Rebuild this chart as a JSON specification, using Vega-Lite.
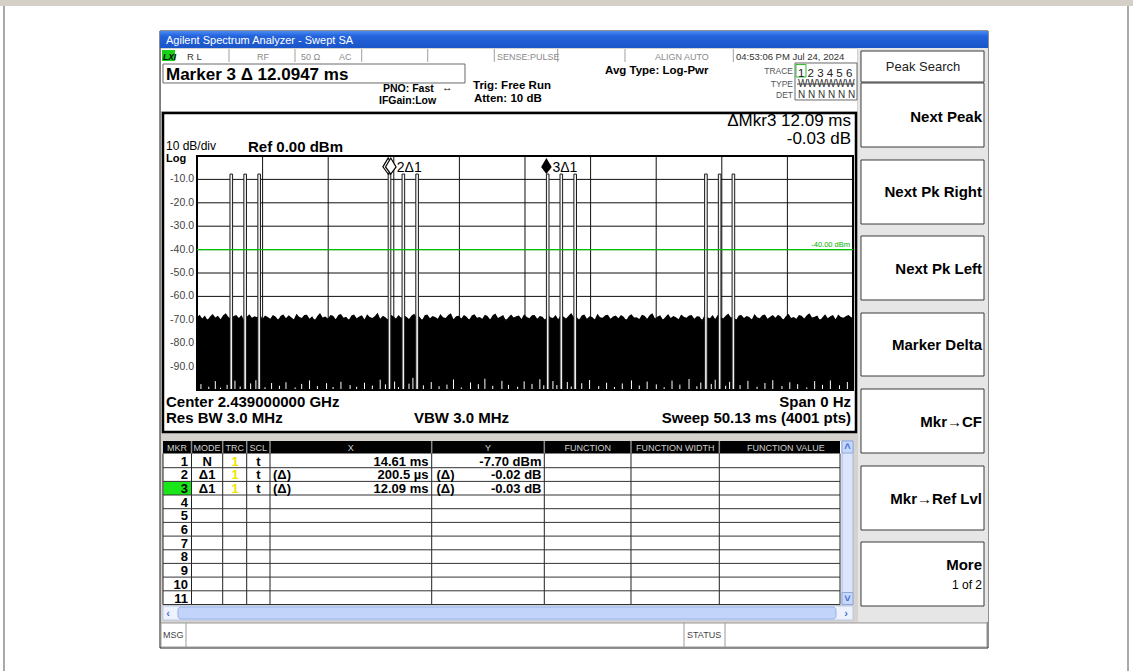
{
"$schema": "https://vega.github.io/schema/vega-lite/v6.json",
"width": 1133, "height": 671, "padding": 0, "autosize": {"type": "none"},
"background": "#ffffff",
"config": {"view": {"stroke": null}, "text": {"font": "Liberation Sans"}},
"encoding": {
 "x": {"field": "t", "type": "quantitative", "scale": {"domain": [-15.054, 71.527], "nice": false, "zero": false}, "axis": null},
 "y": {"field": "v", "type": "quantitative", "scale": {"domain": [-220.085, 66.667], "nice": false, "zero": false}, "axis": null}
},
"layer": [
 {"data": {"values": [{"t": -15.054, "t2": 71.527, "v": 66.667, "v2": 64.103}]},
  "mark": {"type": "rect", "color": "#d4d0c8"}, "encoding": {"x2": {"field": "t2"}, "y2": {"field": "v2"}}},
 {"data": {"values": [{"t": -14.749, "v": 64.103}, {"t": 71.145, "v": 64.103}]},
  "mark": {"type": "rule", "color": "#555555", "strokeWidth": 1}, "encoding": {"y2": {"datum": -220.085}}},
 {"data": {"values": [{"t": -2.828, "t2": 60.447, "v": 53.419, "v2": -210.256}]},
  "mark": {"type": "rect", "fill": "#d6d3ce", "stroke": "#202020", "strokeWidth": 1}, "encoding": {"x2": {"field": "t2"}, "y2": {"field": "v2"}}},
 {"data": {"values": [{"t": -2.828, "t2": 60.447, "v": 53.419, "v2": 46.154}]},
  "mark": {"type": "rect", "color": {"gradient": "linear", "x1": 0, "y1": 0, "x2": 0, "y2": 1, "stops": [{"offset": 0, "color": "#4a8cf5"}, {"offset": 0.3, "color": "#2463dc"}, {"offset": 1, "color": "#1a55c8"}]}},
  "encoding": {"x2": {"field": "t2"}, "y2": {"field": "v2"}}},
 {"data": {"values": [
   {"t": -2.751, "t2": 50.436, "v": 45.726, "v2": 40.171},
   {"t": -2.751, "t2": 50.436, "v": 40.171, "v2": 19.231},
   {"t": -2.598, "t2": 50.130, "v": -121.795, "v2": -191.667},
   {"t": -2.751, "t2": 60.370, "v": -199.573, "v2": -209.829}]},
  "mark": {"type": "rect", "color": "#ffffff"}, "encoding": {"x2": {"field": "t2"}, "y2": {"field": "v2"}}},
 {"data": {"values": [{"t": 50.512, "t2": 60.447, "v": 46.154, "v2": -199.145}]},
  "mark": {"type": "rect", "color": "#e6e6e6"}, "encoding": {"x2": {"field": "t2"}, "y2": {"field": "v2"}}},
 {"data": {"values": [
   {"t": 50.741, "t2": 60.141, "v": 44.872, "v2": 31.624},
   {"t": 50.741, "t2": 60.141, "v": 31.197, "v2": 3.846},
   {"t": 50.741, "t2": 60.141, "v": -1.709, "v2": -29.060},
   {"t": 50.741, "t2": 60.141, "v": -34.188, "v2": -61.538},
   {"t": 50.741, "t2": 60.141, "v": -67.094, "v2": -94.017},
   {"t": 50.741, "t2": 60.141, "v": -99.573, "v2": -126.923},
   {"t": 50.741, "t2": 60.141, "v": -132.479, "v2": -159.829},
   {"t": 50.741, "t2": 60.141, "v": -164.957, "v2": -192.308}]},
  "mark": {"type": "rect", "fill": "#ffffff", "stroke": "#3a3a3a", "strokeWidth": 1}, "encoding": {"x2": {"field": "t2"}, "y2": {"field": "v2"}}},
 {"data": {"values": [{"t": 2.445, "v": 45.726}, {"t": 7.489, "v": 45.726}, {"t": 12.586, "v": 45.726}, {"t": 17.630, "v": 45.726}, {"t": 22.719, "v": 45.726}, {"t": 27.564, "v": 45.726}, {"t": 32.707, "v": 45.726}, {"t": 40.983, "v": 45.726}]},
  "mark": {"type": "rule", "color": "#a0a0a0", "strokeWidth": 1}, "encoding": {"y2": {"datum": 40.171}}},
 {"data": {"values": [{"t": -2.675, "t2": -1.681, "v": 45.299, "v2": 40.598}]},
  "mark": {"type": "rect", "color": "#18d018"}, "encoding": {"x2": {"field": "t2"}, "y2": {"field": "v2"}}},
 {"data": {"values": [
   {"t": -2.598, "t2": 20.480, "v": 39.316, "v2": 31.197},
   {"t": 45.698, "t2": 50.436, "v": 39.744, "v2": 23.932}]},
  "mark": {"type": "rect", "filled": false, "color": "#6a6a6a", "strokeWidth": 1}, "encoding": {"x2": {"field": "t2"}, "y2": {"field": "v2"}}},
 {"data": {"values": [{"t": 45.774, "t2": 46.538, "v": 39.103, "v2": 33.761}]},
  "mark": {"type": "rect", "filled": false, "color": "#30c030", "strokeWidth": 1}, "encoding": {"x2": {"field": "t2"}, "y2": {"field": "v2"}}},
 {"data": {"values": [{"t": 45.851, "t2": 50.283, "v": 30.769}]},
  "mark": {"type": "rule", "color": "#444444", "strokeWidth": 1}, "encoding": {"x2": {"field": "t2"}}},
 {"data": {"values": [{"t": -2.598, "t2": 50.359, "v": 18.376, "v2": -117.949}]},
  "mark": {"type": "rect", "fill": "#ffffff", "stroke": "#000000", "strokeWidth": 2.5}, "encoding": {"x2": {"field": "t2"}, "y2": {"field": "v2"}}},
 {"data": {"values": [{"t": 5.013, "v": 0}, {"t": 10.026, "v": 0}, {"t": 15.039, "v": 0}, {"t": 20.052, "v": 0}, {"t": 25.065, "v": 0}, {"t": 30.078, "v": 0}, {"t": 35.091, "v": 0}, {"t": 40.104, "v": 0}, {"t": 45.117, "v": 0}]},
  "mark": {"type": "rule", "color": "#111111", "strokeWidth": 1}, "encoding": {"y2": {"datum": -100}}},
 {"data": {"values": [{"t": 0, "v": -10}, {"t": 0, "v": -20}, {"t": 0, "v": -30}, {"t": 0, "v": -40}, {"t": 0, "v": -50}, {"t": 0, "v": -60}, {"t": 0, "v": -70}, {"t": 0, "v": -80}, {"t": 0, "v": -90}]},
  "mark": {"type": "rule", "color": "#111111", "strokeWidth": 1}, "encoding": {"x2": {"datum": 50.13}}},
 {"data": {"values": [
  {"t":0,"v":-68.9},{"t":0.2,"v":-67.8},{"t":0.4,"v":-69.4},{"t":0.6,"v":-68.2},{"t":0.8,"v":-70.1},{"t":1.0,"v":-68.6},{"t":1.2,"v":-67.5},{"t":1.4,"v":-69.0},{"t":1.6,"v":-68.3},{"t":1.8,"v":-69.8},
  {"t":2.0,"v":-68.1},{"t":2.2,"v":-67.2},{"t":2.4,"v":-68.8},{"t":2.6,"v":-69.6},{"t":2.8,"v":-68.4},{"t":3.0,"v":-67.9},{"t":3.2,"v":-69.2},{"t":3.4,"v":-68.0},{"t":3.6,"v":-70.3},{"t":3.8,"v":-68.7},
  {"t":4.0,"v":-67.6},{"t":4.2,"v":-69.1},{"t":4.4,"v":-68.5},{"t":4.6,"v":-68.9},{"t":4.8,"v":-67.3},{"t":5.0,"v":-69.7},{"t":5.2,"v":-68.2},{"t":5.4,"v":-68.8},{"t":5.6,"v":-69.5},{"t":5.8,"v":-67.9},
  {"t":6.0,"v":-68.6},{"t":6.2,"v":-70.0},{"t":6.4,"v":-68.3},{"t":6.6,"v":-67.7},{"t":6.8,"v":-69.3},{"t":7.0,"v":-68.1},{"t":7.2,"v":-68.9},{"t":7.4,"v":-69.9},{"t":7.6,"v":-67.4},{"t":7.8,"v":-68.7},
  {"t":8.0,"v":-69.2},{"t":8.2,"v":-68.0},{"t":8.4,"v":-67.8},{"t":8.6,"v":-69.6},{"t":8.8,"v":-68.5},{"t":9.0,"v":-70.2},{"t":9.2,"v":-68.4},{"t":9.4,"v":-67.1},{"t":9.6,"v":-69.0},{"t":9.8,"v":-68.6},
  {"t":10.0,"v":-69.4},{"t":10.2,"v":-67.9},{"t":10.4,"v":-68.3},{"t":10.6,"v":-69.8},{"t":10.8,"v":-68.0},{"t":11.0,"v":-67.5},{"t":11.2,"v":-69.1},{"t":11.4,"v":-68.7},{"t":11.6,"v":-70.1},{"t":11.8,"v":-68.2},
  {"t":12.0,"v":-67.7},{"t":12.2,"v":-69.3},{"t":12.4,"v":-68.6},{"t":12.6,"v":-68.1},{"t":12.8,"v":-69.9},{"t":13.0,"v":-67.6},{"t":13.2,"v":-68.8},{"t":13.4,"v":-69.2},{"t":13.6,"v":-68.4},{"t":13.8,"v":-67.0},
  {"t":14.0,"v":-69.5},{"t":14.2,"v":-68.3},{"t":14.4,"v":-68.9},{"t":14.6,"v":-70.0},{"t":14.8,"v":-67.8},{"t":15.0,"v":-68.5},{"t":15.2,"v":-69.4},{"t":15.4,"v":-68.0},{"t":15.6,"v":-69.1},{"t":15.8,"v":-67.9},
  {"t":16.0,"v":-68.7},{"t":16.2,"v":-69.7},{"t":16.4,"v":-68.2},{"t":16.6,"v":-67.4},{"t":16.8,"v":-69.0},{"t":17.0,"v":-68.6},{"t":17.2,"v":-70.2},{"t":17.4,"v":-68.1},{"t":17.6,"v":-67.7},{"t":17.8,"v":-69.3},
  {"t":18.0,"v":-68.4},{"t":18.2,"v":-68.8},{"t":18.4,"v":-69.6},{"t":18.6,"v":-67.5},{"t":18.8,"v":-68.9},{"t":19.0,"v":-69.2},{"t":19.2,"v":-68.0},{"t":19.4,"v":-67.2},{"t":19.6,"v":-69.8},{"t":19.8,"v":-68.5},
  {"t":20.0,"v":-68.3},{"t":20.2,"v":-69.4},{"t":20.4,"v":-67.9},{"t":20.6,"v":-68.7},{"t":20.8,"v":-70.0},{"t":21.0,"v":-68.2},{"t":21.2,"v":-67.6},{"t":21.4,"v":-69.1},{"t":21.6,"v":-68.8},{"t":21.8,"v":-69.5},
  {"t":22.0,"v":-67.8},{"t":22.2,"v":-68.4},{"t":22.4,"v":-69.9},{"t":22.6,"v":-68.1},{"t":22.8,"v":-67.3},{"t":23.0,"v":-69.2},{"t":23.2,"v":-68.6},{"t":23.4,"v":-68.0},{"t":23.6,"v":-70.3},{"t":23.8,"v":-68.9},
  {"t":24.0,"v":-67.7},{"t":24.2,"v":-69.0},{"t":24.4,"v":-68.5},{"t":24.6,"v":-68.2},{"t":24.8,"v":-69.7},{"t":25.0,"v":-67.6},{"t":25.2,"v":-68.8},{"t":25.4,"v":-69.3},{"t":25.6,"v":-68.1},{"t":25.8,"v":-67.9},
  {"t":26.0,"v":-69.6},{"t":26.2,"v":-68.4},{"t":26.4,"v":-68.7},{"t":26.6,"v":-70.1},{"t":26.8,"v":-67.5},{"t":27.0,"v":-68.9},{"t":27.2,"v":-69.2},{"t":27.4,"v":-68.0},{"t":27.6,"v":-69.8},{"t":27.8,"v":-67.8},
  {"t":28.0,"v":-68.6},{"t":28.2,"v":-69.4},{"t":28.4,"v":-68.3},{"t":28.6,"v":-67.1},{"t":28.8,"v":-69.0},{"t":29.0,"v":-68.7},{"t":29.2,"v":-70.0},{"t":29.4,"v":-68.2},{"t":29.6,"v":-67.7},{"t":29.8,"v":-69.5},
  {"t":30.0,"v":-68.5},{"t":30.2,"v":-68.8},{"t":30.4,"v":-69.9},{"t":30.6,"v":-67.4},{"t":30.8,"v":-68.9},{"t":31.0,"v":-69.1},{"t":31.2,"v":-68.1},{"t":31.4,"v":-67.8},{"t":31.6,"v":-69.6},{"t":31.8,"v":-68.6},
  {"t":32.0,"v":-68.2},{"t":32.2,"v":-69.3},{"t":32.4,"v":-67.9},{"t":32.6,"v":-68.7},{"t":32.8,"v":-70.2},{"t":33.0,"v":-68.4},{"t":33.2,"v":-67.6},{"t":33.4,"v":-69.0},{"t":33.6,"v":-68.9},{"t":33.8,"v":-69.7},
  {"t":34.0,"v":-67.8},{"t":34.2,"v":-68.3},{"t":34.4,"v":-69.5},{"t":34.6,"v":-68.0},{"t":34.8,"v":-67.2},{"t":35.0,"v":-69.4},{"t":35.2,"v":-68.6},{"t":35.4,"v":-68.1},{"t":35.6,"v":-70.0},{"t":35.8,"v":-68.8},
  {"t":36.0,"v":-67.5},{"t":36.2,"v":-69.2},{"t":36.4,"v":-68.4},{"t":36.6,"v":-68.9},{"t":36.8,"v":-69.8},{"t":37.0,"v":-67.7},{"t":37.2,"v":-68.7},{"t":37.4,"v":-69.1},{"t":37.6,"v":-68.2},{"t":37.8,"v":-67.9},
  {"t":38.0,"v":-69.6},{"t":38.2,"v":-68.5},{"t":38.4,"v":-68.6},{"t":38.6,"v":-70.3},{"t":38.8,"v":-67.6},{"t":39.0,"v":-68.9},{"t":39.2,"v":-69.3},{"t":39.4,"v":-68.0},{"t":39.6,"v":-69.7},{"t":39.8,"v":-67.8},
  {"t":40.0,"v":-68.7},{"t":40.2,"v":-69.4},{"t":40.4,"v":-68.3},{"t":40.6,"v":-67.3},{"t":40.8,"v":-69.0},{"t":41.0,"v":-68.6},{"t":41.2,"v":-70.1},{"t":41.4,"v":-68.2},{"t":41.6,"v":-67.9},{"t":41.8,"v":-69.2},
  {"t":42.0,"v":-68.4},{"t":42.2,"v":-68.8},{"t":42.4,"v":-69.9},{"t":42.6,"v":-67.5},{"t":42.8,"v":-68.9},{"t":43.0,"v":-69.3},{"t":43.2,"v":-68.1},{"t":43.4,"v":-67.7},{"t":43.6,"v":-69.5},{"t":43.8,"v":-68.7},
  {"t":44.0,"v":-68.0},{"t":44.2,"v":-69.1},{"t":44.4,"v":-67.8},{"t":44.6,"v":-68.6},{"t":44.8,"v":-70.0},{"t":45.0,"v":-68.5},{"t":45.2,"v":-67.4},{"t":45.4,"v":-69.2},{"t":45.6,"v":-68.8},{"t":45.8,"v":-69.6},
  {"t":46.0,"v":-67.9},{"t":46.2,"v":-68.3},{"t":46.4,"v":-69.4},{"t":46.6,"v":-68.1},{"t":46.8,"v":-67.2},{"t":47.0,"v":-69.0},{"t":47.2,"v":-68.7},{"t":47.4,"v":-68.2},{"t":47.6,"v":-70.2},{"t":47.8,"v":-68.9},
  {"t":48.0,"v":-67.6},{"t":48.2,"v":-69.3},{"t":48.4,"v":-68.5},{"t":48.6,"v":-68.0},{"t":48.8,"v":-69.8},{"t":49.0,"v":-67.7},{"t":49.2,"v":-68.8},{"t":49.4,"v":-69.1},{"t":49.6,"v":-68.4},{"t":49.8,"v":-67.9},
  {"t":50.0,"v":-69.0},{"t":50.13,"v":-68.6}]},
  "mark": {"type": "area", "color": "#000000", "interpolate": "linear"}, "encoding": {"y2": {"datum": -100}}},
 {"data": {"values": [
  {"t":0.3,"v":-97.5},{"t":0.9,"v":-98.6},{"t":1.4,"v":-96.2},{"t":1.8,"v":-99.0},{"t":2.3,"v":-97.8},{"t":2.9,"v":-96.0},{"t":3.3,"v":-98.5},{"t":4.1,"v":-97.2},{"t":4.5,"v":-95.8},{"t":5.2,"v":-98.8},
  {"t":5.7,"v":-97.0},{"t":6.3,"v":-98.2},{"t":6.8,"v":-96.7},{"t":7.5,"v":-98.9},{"t":8.0,"v":-97.4},{"t":8.6,"v":-95.9},{"t":9.2,"v":-98.3},{"t":9.9,"v":-97.1},{"t":10.4,"v":-98.7},{"t":11.0,"v":-96.5},
  {"t":11.7,"v":-97.9},{"t":12.2,"v":-98.6},{"t":12.8,"v":-96.9},{"t":13.4,"v":-98.1},{"t":14.0,"v":-95.6},{"t":14.4,"v":-97.6},{"t":15.1,"v":-96.4},{"t":15.4,"v":-98.8},{"t":16.2,"v":-97.3},{"t":16.5,"v":-94.8},
  {"t":17.3,"v":-98.0},{"t":17.9,"v":-96.6},{"t":18.5,"v":-98.4},{"t":19.1,"v":-97.7},{"t":19.6,"v":-95.5},{"t":20.2,"v":-98.9},{"t":20.9,"v":-96.8},{"t":21.5,"v":-97.5},{"t":22.0,"v":-95.2},{"t":22.6,"v":-98.2},
  {"t":23.3,"v":-96.1},{"t":23.8,"v":-97.8},{"t":24.5,"v":-98.6},{"t":25.0,"v":-96.3},{"t":25.6,"v":-97.4},{"t":26.2,"v":-95.4},{"t":26.5,"v":-98.0},{"t":27.2,"v":-96.2},{"t":27.5,"v":-97.9},{"t":28.3,"v":-96.6},
  {"t":28.6,"v":-98.5},{"t":29.4,"v":-97.1},{"t":30.0,"v":-95.7},{"t":30.7,"v":-98.3},{"t":31.3,"v":-96.9},{"t":31.9,"v":-98.7},{"t":32.5,"v":-97.2},{"t":33.2,"v":-95.9},{"t":33.8,"v":-98.1},{"t":34.4,"v":-96.4},
  {"t":35.1,"v":-97.6},{"t":35.7,"v":-98.8},{"t":36.3,"v":-96.0},{"t":36.9,"v":-97.7},{"t":37.6,"v":-95.3},{"t":38.2,"v":-98.4},{"t":38.5,"v":-96.8},{"t":39.3,"v":-97.4},{"t":39.6,"v":-95.6},{"t":40.4,"v":-98.2},
  {"t":40.7,"v":-96.5},{"t":41.5,"v":-97.9},{"t":42.1,"v":-96.1},{"t":42.8,"v":-98.6},{"t":43.4,"v":-97.0},{"t":44.0,"v":-95.8},{"t":44.7,"v":-98.3},{"t":45.3,"v":-96.7},{"t":45.9,"v":-97.5},{"t":46.6,"v":-98.9},
  {"t":47.2,"v":-96.2},{"t":47.8,"v":-97.8},{"t":48.4,"v":-95.9},{"t":49.1,"v":-98.0},{"t":49.7,"v":-96.6}]},
  "mark": {"type": "rule", "color": "#ffffff", "strokeWidth": 1}, "encoding": {"y2": {"datum": -100}}},
 {"data": {"values": [
  {"t": 2.52, "t2": 2.72, "v": -7.72}, {"t": 3.58, "t2": 3.78, "v": -7.74}, {"t": 4.65, "t2": 4.85, "v": -7.71},
  {"t": 14.61, "t2": 14.81, "v": -7.70}, {"t": 15.67, "t2": 15.87, "v": -7.73}, {"t": 16.72, "t2": 16.92, "v": -7.71},
  {"t": 26.70, "t2": 26.90, "v": -7.73}, {"t": 27.74, "t2": 27.94, "v": -7.72}, {"t": 28.80, "t2": 29.00, "v": -7.74},
  {"t": 38.79, "t2": 38.99, "v": -7.71}, {"t": 39.84, "t2": 40.04, "v": -7.73}, {"t": 40.89, "t2": 41.09, "v": -7.72}]},
  "mark": {"type": "rect", "fill": "#f2f2f2", "stroke": "#1a1a1a", "strokeWidth": 1}, "encoding": {"x2": {"field": "t2"}, "y2": {"datum": -100}}},
 {"data": {"values": [{"t": 0, "v": 0}]},
  "mark": {"type": "rect", "filled": false, "color": "#000000", "strokeWidth": 2}, "encoding": {"x2": {"datum": 50.13}, "y2": {"datum": -100}}},
 {"data": {"values": [{"t": 0, "v": -40}]},
  "mark": {"type": "rule", "color": "#00c000", "strokeWidth": 1.2}, "encoding": {"x2": {"datum": 50.13}}},
 {"data": {"values": [{"t": 49.901, "v": -38.675, "label": "-40.00 dBm"}]},
  "mark": {"type": "text", "align": "right", "baseline": "alphabetic", "fontSize": 7.5, "color": "#00b000"}, "encoding": {"text": {"field": "label"}}},
 {"data": {"values": [{"t": 14.61, "v": -7.70}, {"t": 14.81, "v": -7.72}]},
  "mark": {"type": "point", "shape": "M0,0L-0.66,-0.9L0,-2L0.66,-0.9Z", "size": 256, "filled": true, "fill": "#ffffff", "stroke": "#000000", "strokeWidth": 1.2, "opacity": 1}},
 {"data": {"values": [{"t": 26.70, "v": -7.73}]},
  "mark": {"type": "point", "shape": "M0,0L-0.66,-0.9L0,-2L0.66,-0.9Z", "size": 256, "filled": true, "color": "#000000", "opacity": 1}},
 {"data": {"values": [{"t": 14.81, "v": -7.72, "label": "2Δ1"}, {"t": 26.70, "v": -7.73, "label": "3Δ1"}]},
  "mark": {"type": "text", "align": "left", "baseline": "alphabetic", "dx": 6, "dy": -2, "fontSize": 14, "color": "#000000"}, "encoding": {"text": {"field": "label"}}},
 {"data": {"values": [{"t": 0, "v": -10, "label": "-10.0"}, {"t": 0, "v": -20, "label": "-20.0"}, {"t": 0, "v": -30, "label": "-30.0"}, {"t": 0, "v": -40, "label": "-40.0"}, {"t": 0, "v": -50, "label": "-50.0"}, {"t": 0, "v": -60, "label": "-60.0"}, {"t": 0, "v": -70, "label": "-70.0"}, {"t": 0, "v": -80, "label": "-80.0"}, {"t": 0, "v": -90, "label": "-90.0"}]},
  "mark": {"type": "text", "align": "right", "baseline": "middle", "dx": -3, "fontSize": 10.5, "color": "#444444"}, "encoding": {"text": {"field": "label"}}},
 {"data": {"values": [{"t": -2.369, "v": 47.863, "label": "Agilent Spectrum Analyzer - Swept SA"}]},
  "mark": {"type": "text", "align": "left", "baseline": "alphabetic", "fontSize": 11, "color": "#ffffff"}, "encoding": {"text": {"field": "label"}}},
 {"data": {"values": [{"t": -2.598, "v": 41.239, "label": "LXI"}]},
  "mark": {"type": "text", "align": "left", "baseline": "alphabetic", "fontSize": 8.5, "fontWeight": "bold", "fontStyle": "italic", "color": "#000000"}, "encoding": {"text": {"field": "label"}}},
 {"data": {"values": [{"t": 4.585, "v": 41.239, "label": "RF"}, {"t": 7.947, "v": 41.239, "label": "50 Ω"}, {"t": 10.851, "v": 41.239, "label": "AC"}, {"t": 22.925, "v": 41.239, "label": "SENSE:PULSE"}, {"t": 34.999, "v": 41.239, "label": "ALIGN AUTO"}]},
  "mark": {"type": "text", "align": "left", "baseline": "alphabetic", "fontSize": 9, "color": "#8a8a8a"}, "encoding": {"text": {"field": "label"}}},
 {"data": {"values": [{"t": -0.764, "v": 41.239, "label": "R L"}, {"t": 41.189, "v": 41.239, "label": "04:53:06 PM Jul 24, 2024"}]},
  "mark": {"type": "text", "align": "left", "baseline": "alphabetic", "fontSize": 9.5, "color": "#333333"}, "encoding": {"text": {"field": "label"}}},
 {"data": {"values": [{"t": -2.369, "v": 32.479, "label": "Marker 3 Δ 12.0947 ms"}]},
  "mark": {"type": "text", "align": "left", "baseline": "alphabetic", "fontSize": 17, "fontWeight": "bold", "color": "#000000"}, "encoding": {"text": {"field": "label"}}},
 {"data": {"values": [{"t": 14.214, "v": 27.350, "label": "PNO: Fast"}, {"t": 13.908, "v": 22.222, "label": "IFGain:Low"}, {"t": 18.722, "v": 27.778, "label": "↔"}]},
  "mark": {"type": "text", "align": "left", "baseline": "alphabetic", "fontSize": 10.5, "fontWeight": "bold", "color": "#000000"}, "encoding": {"text": {"field": "label"}}},
 {"data": {"values": [{"t": 21.091, "v": 28.632, "label": "Trig: Free Run"}, {"t": 21.167, "v": 23.077, "label": "Atten: 10 dB"}, {"t": 31.179, "v": 35.043, "label": "Avg Type: Log-Pwr"}]},
  "mark": {"type": "text", "align": "left", "baseline": "alphabetic", "fontSize": 11.5, "fontWeight": "bold", "color": "#000000"}, "encoding": {"text": {"field": "label"}}},
 {"data": {"values": [{"t": 45.545, "v": 35.043, "label": "TRACE"}, {"t": 45.545, "v": 29.359, "label": "TYPE"}, {"t": 45.545, "v": 24.786, "label": "DET"}]},
  "mark": {"type": "text", "align": "right", "baseline": "alphabetic", "fontSize": 8.5, "color": "#555555"}, "encoding": {"text": {"field": "label"}}},
 {"data": {"values": [{"t": 45.927, "v": 33.889, "label": "1 2 3 4 5 6"}]},
  "mark": {"type": "text", "align": "left", "baseline": "alphabetic", "fontSize": 11.5, "color": "#222222"}, "encoding": {"text": {"field": "label"}}},
 {"data": {"values": [{"t": 45.927, "v": 29.274, "label": "WWWWWW"}, {"t": 45.927, "v": 24.786, "label": "N N N N N N"}]},
  "mark": {"type": "text", "align": "left", "baseline": "alphabetic", "fontSize": 10, "color": "#333333"}, "encoding": {"text": {"field": "label"}}},
 {"data": {"values": [{"t": 49.977, "v": 12.821, "label": "ΔMkr3 12.09 ms"}, {"t": 49.977, "v": 5.342, "label": "-0.03 dB"}]},
  "mark": {"type": "text", "align": "right", "baseline": "alphabetic", "fontSize": 17, "color": "#000000"}, "encoding": {"text": {"field": "label"}}},
 {"data": {"values": [{"t": -2.369, "v": 2.564, "label": "10 dB/div"}]},
  "mark": {"type": "text", "align": "left", "baseline": "alphabetic", "fontSize": 12, "color": "#000000"}, "encoding": {"text": {"field": "label"}}},
 {"data": {"values": [{"t": 3.897, "v": 1.709, "label": "Ref 0.00 dBm"}]},
  "mark": {"type": "text", "align": "left", "baseline": "alphabetic", "fontSize": 15, "fontWeight": "bold", "color": "#000000"}, "encoding": {"text": {"field": "label"}}},
 {"data": {"values": [{"t": -2.369, "v": -2.564, "label": "Log"}]},
  "mark": {"type": "text", "align": "left", "baseline": "alphabetic", "fontSize": 11, "fontWeight": "bold", "color": "#000000"}, "encoding": {"text": {"field": "label"}}},
 {"data": {"values": [{"t": -2.369, "v": -107.051, "label": "Center 2.439000000 GHz"}, {"t": -2.369, "v": -114.103, "label": "Res BW 3.0 MHz"}, {"t": 16.583, "v": -114.103, "label": "VBW 3.0 MHz"}]},
  "mark": {"type": "text", "align": "left", "baseline": "alphabetic", "fontSize": 15, "fontWeight": "bold", "color": "#000000"}, "encoding": {"text": {"field": "label"}}},
 {"data": {"values": [{"t": 49.977, "v": -107.051, "label": "Span 0 Hz"}, {"t": 49.977, "v": -114.103, "label": "Sweep  50.13 ms (4001 pts)"}]},
  "mark": {"type": "text", "align": "right", "baseline": "alphabetic", "fontSize": 15, "fontWeight": "bold", "color": "#000000"}, "encoding": {"text": {"field": "label"}}},
 {"data": {"values": [{"t": 59.988, "v": 14.530, "label": "Next Peak"}, {"t": 59.988, "v": -17.521, "label": "Next Pk Right"}, {"t": 59.988, "v": -50.427, "label": "Next Pk Left"}, {"t": 59.988, "v": -82.906, "label": "Marker Delta"}, {"t": 59.988, "v": -115.812, "label": "Mkr→CF"}, {"t": 59.988, "v": -148.718, "label": "Mkr→Ref Lvl"}, {"t": 59.988, "v": -176.923, "label": "More"}]},
  "mark": {"type": "text", "align": "right", "baseline": "alphabetic", "fontSize": 15, "fontWeight": "bold", "color": "#000000"}, "encoding": {"text": {"field": "label"}}},
 {"data": {"values": [{"t": 59.988, "v": -185.043, "label": "1 of 2"}]},
  "mark": {"type": "text", "align": "right", "baseline": "alphabetic", "fontSize": 12, "color": "#000000"}, "encoding": {"text": {"field": "label"}}},
 {"data": {"values": [{"t": 55.479, "v": 36.538, "label": "Peak Search"}]},
  "mark": {"type": "text", "align": "center", "baseline": "alphabetic", "fontSize": 13, "color": "#222222"}, "encoding": {"text": {"field": "label"}}},
 {"data": {"values": [{"t": -2.598, "t2": 49.137, "v": -121.795, "v2": -127.137}]},
  "mark": {"type": "rect", "color": "#000000"}, "encoding": {"x2": {"field": "t2"}, "y2": {"field": "v2"}}},
 {"data": {"values": [{"t": -2.560, "t2": -0.420, "v": -139.060, "v2": -144.872}]},
  "mark": {"type": "rect", "color": "#19e619"}, "encoding": {"x2": {"field": "t2"}, "y2": {"field": "v2"}}},
 {"data": {"values": [{"t": -0.420, "v": -121.795}, {"t": 1.964, "v": -121.795}, {"t": 3.798, "v": -121.795}, {"t": 5.579, "v": -121.795}, {"t": 17.935, "v": -121.795}, {"t": 26.540, "v": -121.795}, {"t": 33.165, "v": -121.795}, {"t": 39.913, "v": -121.795}]},
  "mark": {"type": "rule", "color": "#8a8a8a", "strokeWidth": 1.5}, "encoding": {"y2": {"datum": -127.137}}},
 {"data": {"values": [{"t": -2.598, "v": -127.137}, {"t": -0.420, "v": -127.137}, {"t": 1.964, "v": -127.137}, {"t": 3.798, "v": -127.137}, {"t": 5.579, "v": -127.137}, {"t": 17.935, "v": -127.137}, {"t": 26.540, "v": -127.137}, {"t": 33.165, "v": -127.137}, {"t": 39.913, "v": -127.137}, {"t": 49.137, "v": -127.137}]},
  "mark": {"type": "rule", "color": "#222222", "strokeWidth": 1}, "encoding": {"y2": {"datum": -191.667}}},
 {"data": {"values": [{"t": -2.598, "v": -133.205}, {"t": -2.598, "v": -139.060}, {"t": -2.598, "v": -144.872}, {"t": -2.598, "v": -150.726}, {"t": -2.598, "v": -156.581}, {"t": -2.598, "v": -162.436}, {"t": -2.598, "v": -168.291}, {"t": -2.598, "v": -174.103}, {"t": -2.598, "v": -179.957}, {"t": -2.598, "v": -185.812}, {"t": -2.598, "v": -191.667}]},
  "mark": {"type": "rule", "color": "#333333", "strokeWidth": 1}, "encoding": {"x2": {"datum": 49.137}}},
 {"data": {"values": [{"t": -1.528, "v": -125.855, "label": "MKR"}, {"t": 0.772, "v": -125.855, "label": "MODE"}, {"t": 2.881, "v": -125.855, "label": "TRC"}, {"t": 4.684, "v": -125.855, "label": "SCL"}, {"t": 11.757, "v": -125.855, "label": "X"}, {"t": 22.238, "v": -125.855, "label": "Y"}, {"t": 29.853, "v": -125.855, "label": "FUNCTION"}, {"t": 36.540, "v": -125.855, "label": "FUNCTION WIDTH"}, {"t": 45.0, "v": -125.855, "label": "FUNCTION VALUE"}]},
  "mark": {"type": "text", "align": "center", "baseline": "alphabetic", "fontSize": 9, "color": "#d0d0d0"}, "encoding": {"text": {"field": "label"}}},
 {"data": {"values": [
   {"t": -0.688, "v": -132.350, "label": "1"}, {"t": -0.688, "v": -138.205, "label": "2"}, {"t": -0.688, "v": -144.017, "label": "3"}, {"t": -0.688, "v": -149.872, "label": "4"}, {"t": -0.688, "v": -155.726, "label": "5"}, {"t": -0.688, "v": -161.581, "label": "6"}, {"t": -0.688, "v": -167.436, "label": "7"}, {"t": -0.688, "v": -173.248, "label": "8"}, {"t": -0.688, "v": -179.103, "label": "9"}, {"t": -0.688, "v": -184.957, "label": "10"}, {"t": -0.688, "v": -190.812, "label": "11"},
   {"t": 17.690, "v": -132.350, "label": "14.61 ms"}, {"t": 17.690, "v": -138.205, "label": "200.5 µs"}, {"t": 17.690, "v": -144.017, "label": "12.09 ms"},
   {"t": 26.326, "v": -132.350, "label": "-7.70 dBm"}, {"t": 26.326, "v": -138.205, "label": "-0.02 dB"}, {"t": 26.326, "v": -144.017, "label": "-0.03 dB"}]},
  "mark": {"type": "text", "align": "right", "baseline": "alphabetic", "fontSize": 13, "fontWeight": "bold", "color": "#000000"}, "encoding": {"text": {"field": "label"}}},
 {"data": {"values": [{"t": 0.772, "v": -132.350, "label": "N"}, {"t": 0.772, "v": -138.205, "label": "Δ1"}, {"t": 0.772, "v": -144.017, "label": "Δ1"}, {"t": 4.700, "v": -132.350, "label": "t"}, {"t": 4.700, "v": -138.205, "label": "t"}, {"t": 4.700, "v": -144.017, "label": "t"}]},
  "mark": {"type": "text", "align": "center", "baseline": "alphabetic", "fontSize": 13, "fontWeight": "bold", "color": "#000000"}, "encoding": {"text": {"field": "label"}}},
 {"data": {"values": [{"t": 2.904, "v": -132.350, "label": "1"}, {"t": 2.904, "v": -138.205, "label": "1"}, {"t": 2.904, "v": -144.017, "label": "1"}]},
  "mark": {"type": "text", "align": "center", "baseline": "alphabetic", "fontSize": 13, "fontWeight": "bold", "color": "#f0e400"}, "encoding": {"text": {"field": "label"}}},
 {"data": {"values": [{"t": 5.808, "v": -138.205, "label": "(Δ)"}, {"t": 5.808, "v": -144.017, "label": "(Δ)"}, {"t": 18.302, "v": -138.205, "label": "(Δ)"}, {"t": 18.302, "v": -144.017, "label": "(Δ)"}]},
  "mark": {"type": "text", "align": "left", "baseline": "alphabetic", "fontSize": 13, "fontWeight": "bold", "color": "#000000"}, "encoding": {"text": {"field": "label"}}},
 {"data": {"values": [{"t": 49.289, "t2": 50.130, "v": -121.795, "v2": -191.667}]},
  "mark": {"type": "rect", "fill": "#dbe6fc", "stroke": "#a8b8d8", "strokeWidth": 1}, "encoding": {"x2": {"field": "t2"}, "y2": {"field": "v2"}}},
 {"data": {"values": [{"t": 49.289, "t2": 50.130, "v": -121.795, "v2": -126.923}, {"t": 49.289, "t2": 50.130, "v": -186.538, "v2": -191.667}]},
  "mark": {"type": "rect", "fill": "#c6d8fc", "stroke": "#8ea8dc", "strokeWidth": 1}, "encoding": {"x2": {"field": "t2"}, "y2": {"field": "v2"}}},
 {"data": {"values": [{"t": -2.598, "t2": 50.130, "v": -192.308, "v2": -198.291}]},
  "mark": {"type": "rect", "fill": "#eef2fc", "stroke": "#b8c8e8", "strokeWidth": 1}, "encoding": {"x2": {"field": "t2"}, "y2": {"field": "v2"}}},
 {"data": {"values": [{"t": -1.452, "t2": 48.831, "v": -192.735, "v2": -197.863}]},
  "mark": {"type": "rect", "fill": "#c2d4fa", "stroke": "#9ab2e6", "strokeWidth": 1, "cornerRadius": 3}, "encoding": {"x2": {"field": "t2"}, "y2": {"field": "v2"}}},
 {"data": {"values": [{"t": -2.216, "v": -197.009, "label": "‹"}, {"t": 49.595, "v": -197.009, "label": "›"}, {"t": 49.709, "v": -125.6, "label": "˄"}, {"t": 49.709, "v": -190.4, "label": "˅"}]},
  "mark": {"type": "text", "align": "center", "baseline": "alphabetic", "fontSize": 11, "fontWeight": "bold", "color": "#4a6fd0"}, "encoding": {"text": {"field": "label"}}},
 {"data": {"values": [{"t": -2.751, "t2": 60.370, "v": -199.573, "v2": -209.829}]},
  "mark": {"type": "rect", "filled": false, "color": "#9a9a9a", "strokeWidth": 1}, "encoding": {"x2": {"field": "t2"}, "y2": {"field": "v2"}}},
 {"data": {"values": [{"t": -0.841, "v": -199.573}, {"t": 37.215, "v": -199.573}, {"t": 40.349, "v": -199.573}]},
  "mark": {"type": "rule", "color": "#9a9a9a", "strokeWidth": 1}, "encoding": {"y2": {"datum": -209.829}}},
 {"data": {"values": [{"t": -2.598, "v": -205.983, "label": "MSG"}, {"t": 37.445, "v": -205.983, "label": "STATUS"}]},
  "mark": {"type": "text", "align": "left", "baseline": "alphabetic", "fontSize": 9, "color": "#444444"}, "encoding": {"text": {"field": "label"}}}
]
}
